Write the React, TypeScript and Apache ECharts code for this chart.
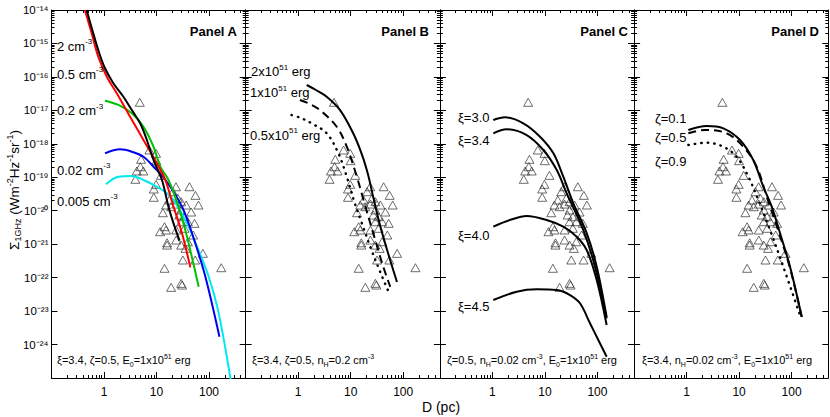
import React, { useEffect, useRef } from 'react';
import * as echarts from 'echarts';

// ---------- data ----------
const xTickLabels = ['1', '10', '100'];

// observed remnants (D in pc, surface brightness at 1 GHz), same in every panel
const observed: [number, number][] = [
  [4.8, 1.74e-17], [7.32, 6.53e-19], [9.8, 5.2e-19], [5.08, 3.44e-19], [9.95, 3.13e-19],
  [4.93, 2.07e-19], [4.21, 1.54e-19], [5.62, 1.54e-19], [3.96, 8.69e-20], [12.2, 1.14e-19],
  [9.8, 6.15e-20], [8.88, 4.46e-20], [20.5, 3.7e-20], [42.4, 5.21e-20], [8.88, 2.52e-20],
  [55.2, 2.88e-20], [17.6, 2.09e-20], [25.5, 2.35e-20], [29.5, 1.86e-20], [63.0, 1.48e-20],
  [15.2, 1.48e-20], [19.0, 1.32e-20], [13.2, 8.71e-21], [29.5, 1.05e-20], [23.7, 1.58e-20],
  [34.1, 6.62e-21], [29.5, 4.69e-21], [39.6, 4.69e-21], [52.9, 4.2e-21], [14.2, 3.33e-21],
  [11.7, 2.36e-21], [15.2, 2.65e-21], [23.7, 2.65e-21], [34.1, 2.98e-21], [23.7, 1.33e-21],
  [29.5, 9.4e-22], [15.9, 1.1e-21], [15.9, 9.4e-22], [39.6, 1.18e-21], [35.6, 7.5e-22],
  [31.8, 3.36e-22], [54.5, 3.36e-22], [14.2, 1.9e-22], [171, 1.98e-22], [19.0, 5.13e-23],
  [29.5, 6.75e-23], [30.8, 6.0e-23], [76.5, 5.32e-22], [36.7, 1.48e-20], [45.7, 9.14e-21],
  [27.0, 7.43e-21], [49.9, 1.88e-21], [23.5, 5.2e-20],
];

// Panel A: density
const panelA_n2: [number, number][] = [
  [0.467, 1e-14], [0.624, 2.01e-15], [0.813, 5.08e-16], [1.045, 1.81e-16], [1.506, 6.44e-17],
  [2.34, 2.56e-17], [3.39, 1.02e-17], [4.88, 4.1e-18], [6.55, 1.3e-18], [8.77, 3.28e-19],
  [12.7, 8.28e-20], [16.9, 1.32e-20], [21.1, 4.2e-21], [27.5, 1.27e-21],
];
const panelA_n05: [number, number][] = [
  [0.433, 1e-14], [0.582, 2.01e-15], [0.778, 4.02e-16], [1.13, 1.01e-16], [1.75, 3.24e-17],
  [3.14, 6.46e-18], [5.64, 1.3e-18], [10.2, 2.61e-19], [14.7, 8.28e-20], [21.1, 1.32e-20],
  [30.6, 2.11e-21], [44.1, 2.03e-22],
];
const panelA_n02: [number, number][] = [
  [1.045, 1.95e-17], [1.88, 1.45e-17], [3.39, 8.17e-18], [5.64, 3.24e-18], [8.77, 8.18e-19],
  [11.8, 2.07e-19], [16.9, 8.28e-20], [26.3, 1.32e-20], [38.1, 1.67e-21], [63.5, 5.35e-23],
];
const panelA_n002: [number, number][] = [
  [1.045, 5.2e-19], [2.02, 6.85e-19], [3.39, 5.81e-19], [5.64, 4.11e-19], [8.77, 2.07e-19],
  [15.3, 7.73e-20], [30.6, 1.32e-20], [51, 1.5e-21], [85.3, 1.06e-22], [158, 1.71e-24],
];
const panelA_n0005: [number, number][] = [
  [1.09, 6.15e-20], [1.88, 1.04e-19], [3.39, 1.09e-19], [5.64, 8.28e-20], [10.2, 5.21e-20],
  [15.8, 3.31e-20], [21.1, 2.09e-20], [38.1, 4.2e-21], [59.2, 8.39e-22], [98.6, 1.06e-22],
  [153, 8.57e-24], [265, 7e-26],
];

// Panel B: explosion energy
const panelB_E2: [number, number][] = [
  [1.45, 5.73e-17], [2.18, 4.06e-17], [3.49, 2.56e-17], [6.27, 1.02e-17], [11.1, 2.1e-18],
  [16.5, 4.62e-19], [21.5, 1.17e-19], [26.8, 2.57e-20], [36.5, 3.49e-21], [52.6, 4.81e-22],
  [76.1, 7.38e-23],
];
const panelB_E1: [number, number][] = [
  [1.08, 2.04e-17], [1.67, 1.55e-17], [2.6, 1.02e-17], [5.42, 3.24e-18], [8.42, 8.18e-19],
  [13.1, 1.04e-19], [18.0, 1.82e-20], [29.3, 1.33e-21], [41.7, 2.12e-22], [56.6, 5.35e-23],
];
const panelB_E05: [number, number][] = [
  [0.748, 7.26e-18], [1.13, 5.9e-18], [1.8, 4.1e-18], [3.49, 2.06e-18], [5.82, 5.2e-19],
  [8.42, 1.04e-19], [11.6, 1.95e-20], [16.5, 4.0e-21], [24.5, 7.16e-22], [36.5, 1.47e-22],
  [52.6, 3.79e-23],
];

// Panel C: xi
const panelC_xi30: [number, number][] = [
  [1.04, 5.14e-18], [1.74, 6.19e-18], [3.88, 4.1e-18], [8.07, 1.63e-18], [14.5, 5.2e-19],
  [22.4, 1.04e-19], [34.8, 1.66e-20], [62.5, 2.15e-21], [97, 2.12e-22], [150, 6.64e-24],
];
const panelC_xi34: [number, number][] = [
  [1.04, 2.06e-18], [1.87, 2.72e-18], [4.5, 1.83e-18], [9.33, 6.53e-19], [16.8, 1.65e-19],
  [26, 3.31e-20], [53.9, 2.65e-21], [90, 2.12e-22], [150, 6.07e-24],
];
const panelC_xi40: [number, number][] = [
  [1.04, 3.33e-21], [2.16, 5.27e-21], [4.5, 6.95e-21], [10.8, 5.27e-21], [22.4, 3.33e-21],
  [40.3, 1.67e-21], [62.5, 6.68e-22], [97, 8.47e-23], [150, 3.83e-24],
];
const panelC_xi45: [number, number][] = [
  [1.04, 2.14e-23], [2.9, 3.79e-23], [6.98, 4.47e-23], [16.8, 4.26e-23], [30.1, 3.02e-23],
  [46.6, 1.71e-23], [72.3, 4.31e-24], [104, 1.37e-24], [150, 4.31e-25],
];

// Panel D: zeta
const panelD_z01: [number, number][] = [
  [1.08, 2.59e-18], [2.41, 3.4e-18], [5.0, 2.9e-18], [10.4, 1.3e-18], [18.6, 3.28e-19],
  [28.9, 5.21e-20], [41.8, 1.32e-20], [60.1, 2.15e-21], [93.3, 2.12e-22], [156, 6.78e-24],
];
const panelD_z05: [number, number][] = [
  [1.08, 2.06e-18], [2.24, 2.59e-18], [5.8, 2.06e-18], [12.0, 8.18e-19], [21.6, 2.07e-19],
  [33.6, 2.62e-20], [55.1, 2.65e-21], [93.3, 1.94e-22], [156, 6.64e-24],
];
const panelD_z09: [number, number][] = [
  [1.08, 9.2e-19], [2.41, 1.08e-18], [5.0, 8.18e-19], [9.0, 4.11e-19], [15.0, 1.04e-19],
  [23.2, 2.09e-20], [38.8, 2.65e-21], [69.5, 2.12e-22], [145, 7.52e-24],
];

// ---------- layout / style ----------
const FONT = '"Liberation Sans", Arial, Helvetica, sans-serif';
const GRID_LEFT = [51.5, 245.7, 439.9, 634.1];
const GRID_W = 194.2;
const GRID_TOP = 10;
const GRID_H = 368;

const SUP: Record<string, string> = {
  '-': '\u207B', '0': '\u2070', '1': '\u00B9', '2': '\u00B2', '3': '\u00B3', '4': '\u2074',
  '5': '\u2075', '6': '\u2076', '7': '\u2077', '8': '\u2078', '9': '\u2079',
};
const toSup = (s: string) => s.split('').map((c) => SUP[c] || c).join('');

const rich = (fs: number) => ({
  n: { fontSize: fs, fontFamily: FONT, color: '#000', lineHeight: fs + 4 },
  sup: { fontSize: Math.round(fs * 0.65), fontFamily: FONT, color: '#000', lineHeight: Math.round(fs * 0.65), verticalAlign: 'top' },
  sub: { fontSize: Math.round(fs * 0.65), fontFamily: FONT, color: '#000', lineHeight: Math.round(fs * 0.65), verticalAlign: 'bottom' },
});

const txt = (x: number, y: number, text: string, fs: number, align = 'left', extra: any = {}) => ({
  type: 'text',
  x,
  y,
  z: 100,
  ...extra,
  style: { text, rich: rich(fs), align, verticalAlign: 'middle', fill: '#000', font: `${fs}px ${FONT}` },
});

const boldTxt = (x: number, y: number, text: string) => ({
  type: 'text',
  x,
  y,
  z: 100,
  style: { text, align: 'right', verticalAlign: 'middle', fill: '#000', font: `bold 13px ${FONT}` },
});

function isDecade(v: number) {
  const l = Math.log10(v);
  return Math.abs(l - Math.round(l)) < 1e-6;
}

function buildOption() {
  const grid: any[] = [];
  const xAxis: any[] = [];
  const yAxis: any[] = [];
  const series: any[] = [];
  const common = {
    type: 'log',
    logBase: 10,
    interval: 1,
    axisLine: { show: true, onZero: false, lineStyle: { color: '#000', width: 1 } },
    axisTick: { show: true, inside: true, length: 6, lineStyle: { color: '#000', width: 1 } },
    minorTick: { show: true, splitNumber: 9, length: 3, lineStyle: { color: '#000', width: 1 } },
    splitLine: { show: false },
    minorSplitLine: { show: false },
  };
  for (let i = 0; i < 4; i++) {
    grid.push({
      left: GRID_LEFT[i], top: GRID_TOP, width: GRID_W, height: GRID_H,
      containLabel: false, outerBoundsMode: 'none',
    });
    xAxis.push({
      ...common, gridIndex: i, position: 'bottom', min: 0.1, max: 500,
      axisLabel: {
        show: true, margin: 8, fontSize: 12, color: '#000', fontFamily: FONT,
        formatter: (v: number) => {
          if (!isDecade(v)) return '';
          const e = Math.round(Math.log10(v));
          return e >= 0 && e <= 2 ? xTickLabels[e] : '';
        },
      },
    });
    xAxis.push({ ...common, gridIndex: i, position: 'top', min: 0.1, max: 500, axisLabel: { show: false } });
    yAxis.push({
      ...common, gridIndex: i, position: 'left', min: 1e-25, max: 1e-14,
      axisLabel: i === 0
        ? {
            show: true, margin: 3, color: '#000', fontFamily: FONT, fontSize: 11.5,
            formatter: (v: number) => '10' + toSup(String(Math.round(Math.log10(v)))),
          }
        : { show: false },
    });
    yAxis.push({ ...common, gridIndex: i, position: 'right', min: 1e-25, max: 1e-14, axisLabel: { show: false } });
    series.push({
      type: 'scatter', xAxisIndex: 2 * i, yAxisIndex: 2 * i, data: observed,
      symbol: 'triangle', symbolSize: [9, 8], silent: true, z: 3,
      itemStyle: { color: 'rgba(0,0,0,0)', borderColor: '#333', borderWidth: 0.9 },
    });
  }
  const line = (i: number, data: [number, number][], color: string, type: any = 'solid', extra: any = {}) => ({
    type: 'line', xAxisIndex: 2 * i, yAxisIndex: 2 * i, data, showSymbol: false, symbol: 'none',
    smooth: 0.35, silent: true, clip: true, z: 4,
    lineStyle: { color, width: 2, type, ...extra },
  });
  const dash = [8, 5];
  const dot = [0.5, 6];
  series.push(
    line(0, panelA_n0005, '#00E8F0'),
    line(0, panelA_n002, '#0000F0'),
    line(0, panelA_n02, '#00C000'),
    line(0, panelA_n05, '#FF0000'),
    line(0, panelA_n2, '#000000'),
    line(1, panelB_E2, '#000'),
    line(1, panelB_E1, '#000', dash),
    line(1, panelB_E05, '#000', dot, { cap: 'round', width: 2.4 }),
    line(2, panelC_xi30, '#000'),
    line(2, panelC_xi34, '#000'),
    line(2, panelC_xi40, '#000'),
    line(2, panelC_xi45, '#000'),
    line(3, panelD_z01, '#000'),
    line(3, panelD_z05, '#000', dash),
    line(3, panelD_z09, '#000', dot, { cap: 'round', width: 2.4 }),
  );

  const graphic: any[] = [
    boldTxt(237, 31.5, 'Panel A'),
    boldTxt(429, 31.5, 'Panel B'),
    boldTxt(628, 31.5, 'Panel C'),
    boldTxt(819, 31.5, 'Panel D'),
    // panel A labels
    txt(57, 46, '{n|2 cm}{sup|-3}', 13),
    txt(57, 74, '{n|0.5 cm}{sup|-3}', 13),
    txt(57, 110.5, '{n|0.2 cm}{sup|-3}', 13),
    txt(57, 170, '{n|0.02 cm}{sup|-3}', 13),
    txt(57, 201, '{n|0.005 cm}{sup|-3}', 13),
    // panel B labels
    txt(251, 71.5, '{n|2x10}{sup|51}{n| erg}', 13),
    txt(250, 92.5, '{n|1x10}{sup|51}{n| erg}', 13),
    txt(250, 135, '{n|0.5x10}{sup|51}{n| erg}', 13),
    // panel C labels
    txt(458, 117, '{n|ξ=3.0}', 13),
    txt(458, 140, '{n|ξ=3.4}', 13),
    txt(458, 235, '{n|ξ=4.0}', 13),
    txt(458, 306, '{n|ξ=4.5}', 13),
    // panel D labels
    txt(655, 118, '{n|ζ=0.1}', 13),
    txt(655, 137, '{n|ζ=0.5}', 13),
    txt(655, 161.5, '{n|ζ=0.9}', 13),
    // bottom annotations
    txt(57, 360, '{n|ξ=3.4, ζ=0.5, E}{sub|0}{n|=1x10}{sup|51}{n| erg}', 11),
    txt(252, 360, '{n|ξ=3.4, ζ=0.5, n}{sub|H}{n|=0.2 cm}{sup|-3}', 11),
    txt(447, 360, '{n|ζ=0.5, n}{sub|H}{n|=0.02 cm}{sup|-3}{n|, E}{sub|0}{n|=1x10}{sup|51}{n| erg}', 11),
    txt(642, 360, '{n|ξ=3.4, n}{sub|H}{n|=0.02 cm}{sup|-3}{n|, E}{sub|0}{n|=1x10}{sup|51}{n| erg}', 11),
    // axis titles
    txt(441, 407, '{n|D (pc)}', 14, 'center'),
    txt(14, 190, '{n|Σ}{sub|1GHz}{n| (Wm}{sup|-2}{n|Hz}{sup|-1}{n|sr}{sup|-1}{n|)}', 13.5, 'center', { rotation: Math.PI / 2 }),
  ];

  return {
    animation: false,
    backgroundColor: '#fff',
    textStyle: { fontFamily: FONT },
    grid, xAxis, yAxis, series, graphic,
  };
}

export default function App() {
  const ref = useRef<HTMLDivElement>(null);
  useEffect(() => {
    if (!ref.current) return;
    const chart = echarts.init(ref.current, undefined, { renderer: 'svg' });
    chart.setOption(buildOption() as any);
    return () => chart.dispose();
  }, []);
  return (
    <div
      ref={ref}
      style={{ position: 'absolute', left: 0, top: 0, width: 830, height: 417, background: '#fff' }}
    />
  );
}
